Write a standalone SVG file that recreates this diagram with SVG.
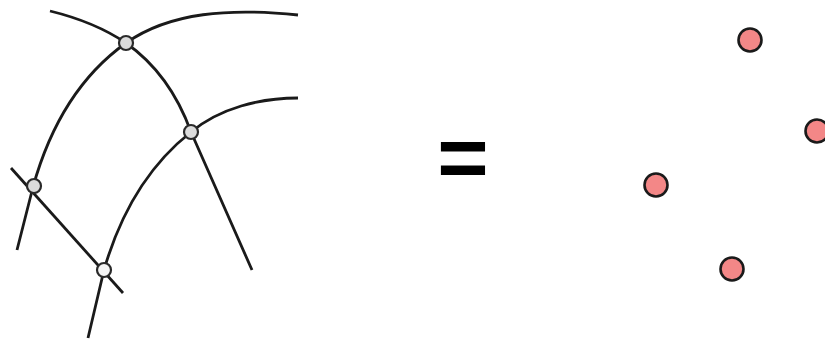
<svg xmlns="http://www.w3.org/2000/svg" width="825" height="342" viewBox="0 0 825 342">
  <style>
    .curve { fill: none; stroke: #1a1a1a; stroke-width: 2.8; stroke-linecap: butt; }
    .vert { stroke: #2a2a2a; stroke-width: 2.2; fill: #dcdcdc; }
    .vert.light { fill: #f4f4f4; }
    .pt { fill: #f38787; stroke: #1a1a1a; stroke-width: 2.6; }
    .eq { font-family: "Liberation Sans", Arial, sans-serif; font-weight: bold; font-size: 88px; fill: #000; }
  </style>
  <rect width="825" height="342" fill="#ffffff"/>
  <g id="connectors">
    <path class="curve" d="M50,11 Q95,22 126,43 Q170,74 191,132 L252,270"/>
    <path class="curve" d="M17,250 L33,187 Q60,90 126,43 C170,12 230,8 298,15"/>
    <path class="curve" d="M88,338 L104,270 Q130,180 191,132 C220,108 260,98 298,98"/>
    <path class="curve" d="M11,168 L123,293"/>
  </g>
  <g id="nodeA"><circle class="vert" cx="126" cy="43" r="7"/></g>
  <g id="nodeB"><circle class="vert" cx="191" cy="132" r="7"/></g>
  <g id="nodeC"><circle class="vert" cx="34" cy="186" r="7"/></g>
  <g id="nodeD"><circle class="vert light" cx="104" cy="270" r="7"/></g>
  <g id="equals"><text class="eq" x="463" y="187" text-anchor="middle">=</text></g>
  <g id="p1"><circle class="pt" cx="750" cy="40" r="11.5"/></g>
  <g id="p2"><circle class="pt" cx="817" cy="131" r="11.5"/></g>
  <g id="p3"><circle class="pt" cx="656" cy="185" r="11.5"/></g>
  <g id="p4"><circle class="pt" cx="732" cy="269" r="11.5"/></g>
</svg>
